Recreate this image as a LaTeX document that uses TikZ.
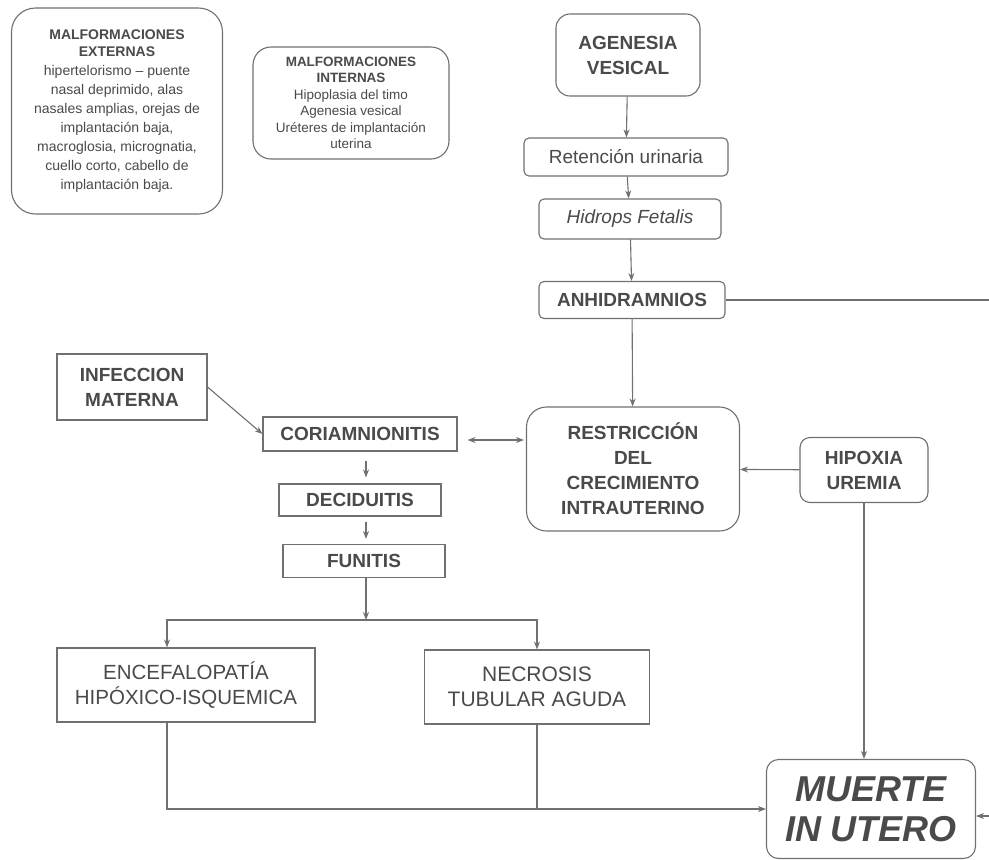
\documentclass[tikz,border=0pt]{standalone}
\usepackage{fontspec}
\setmainfont{Liberation Sans}
\usetikzlibrary{arrows.meta}
\definecolor{linea}{HTML}{707070}
\definecolor{texto}{HTML}{4A4A4A}

\begin{document}
\begin{tikzpicture}[x=1pt,y=1pt,>={Stealth[length=8pt,width=6pt]},line width=1.1pt,color=linea]
\useasboundingbox[fill=white] (0,0) rectangle (989,-860);

   \tikzstyle{caja}=[draw=linea,line width=1.1pt,text=texto,align=center,inner sep=2pt,font=\bfseries\fontsize{19}{25}\selectfont]
   \tikzstyle{redonda}=[caja,rounded corners=12pt]
   \tikzstyle{nota}=[caja,rounded corners=24pt,font=\fontsize{14}{19}\selectfont]

  % malformaciones
  \node[nota,minimum width=211pt,minimum height=206pt] (ext) at (117,-111)
     {\textbf{MALFORMACIONES}\\[-2pt]\textbf{EXTERNAS}\\hipertelorismo -- puente\\nasal deprimido, alas\\nasales amplias, orejas de\\implantación baja,\\macroglosia, micrognatia,\\cuello corto, cabello de\\implantación baja.};
  \node[nota,rounded corners=18pt,font=\fontsize{13.5}{16.5}\selectfont,minimum width=196pt,minimum height=112pt] (int) at (351,-103)
     {\textbf{MALFORMACIONES}\\\textbf{INTERNAS}\\Hipoplasia del timo\\Agenesia vesical\\Uréteres de implantación\\uterina};

  % columna derecha
  \node[redonda,rounded corners=14pt,minimum width=144pt,minimum height=82pt] (agen) at (628,-55) {AGENESIA\\VESICAL};
  \node[caja,font=\fontsize{19}{25}\selectfont,rounded corners=5pt,minimum width=204pt,minimum height=38pt] (ret) at (626,-157) {Retención urinaria};
  \node[caja,font=\itshape\fontsize{19}{25}\selectfont,rounded corners=5pt,minimum width=182pt,minimum height=40pt] (hid) at (630,-219) {Hidrops Fetalis};
  \node[caja,rounded corners=5pt,minimum width=186pt,minimum height=37pt] (anh) at (632,-300) {ANHIDRAMNIOS};
  \node[redonda,rounded corners=20pt,minimum width=213pt,minimum height=124pt] (rest) at (633,-469) {RESTRICCIÓN\\DEL\\CRECIMIENTO\\INTRAUTERINO};
  \node[redonda,rounded corners=10pt,minimum width=128pt,minimum height=65pt] (hip) at (864,-470) {HIPOXIA\\UREMIA};

  % columna izquierda
  \node[caja,minimum width=150pt,minimum height=66pt] (inf) at (132,-387) {INFECCION\\MATERNA};
  \node[caja,minimum width=194pt,minimum height=34pt] (cor) at (360,-434) {CORIAMNIONITIS};
  \node[caja,minimum width=162pt,minimum height=32pt] (dec) at (360,-500) {DECIDUITIS};
  \node[caja,minimum width=162pt,minimum height=33pt] (fun) at (364,-561) {FUNITIS};
  \node[caja,font=\fontsize{20.5}{25}\selectfont,minimum width=258pt,minimum height=74pt] (enc) at (186,-685) {ENCEFALOPATÍA\\HIPÓXICO-ISQUEMICA};
  \node[caja,font=\fontsize{21}{25}\selectfont,minimum width=225pt,minimum height=74pt] (nec) at (537,-687) {NECROSIS\\TUBULAR AGUDA};

  \node[redonda,font=\bfseries\itshape\fontsize{36}{40}\selectfont,minimum width=209pt,minimum height=99pt] (mue) at (871,-809) {MUERTE\\IN UTERO};

  \coordinate (split) at (366,-620);

 \draw[->] (agen) -- (ret);
 \draw[->] (ret) -- (hid);
 \draw[->] (hid) -- (anh);
 \draw[->] (anh) -- (rest);
 \draw[->] (anh.east) -- ++(400,0) |- ([yshift=-7pt]mue.east);
 \draw[->] (hip) -- (rest);
 \draw[->] (hip.south) -- (hip.south |- mue.north);
 \draw[->] (inf.east) -- (cor.west);
 \draw[<->,shorten <=10pt,shorten >=2pt] ([yshift=-6pt]cor.east) -- ([yshift=-6pt]cor.east -| rest.west);
 \draw[->,shorten <=9pt,shorten >=6pt] ([xshift=6pt]cor.south) -- ([xshift=6pt]dec.north);
 \draw[->,shorten <=5pt,shorten >=5pt] ([xshift=6pt]dec.south) -- ([xshift=2pt]fun.north);
 \draw[->] ([xshift=2pt]fun.south) -- (split);
 \draw[->] (split) -| ([xshift=-19pt]enc.north);
 \draw[->] (split) -| (nec.north);
 \draw[->] ([xshift=-19pt]enc.south) |- (mue.west);
 \draw (nec.south) -- (nec.south |- mue.west);

\end{tikzpicture}
\end{document}
